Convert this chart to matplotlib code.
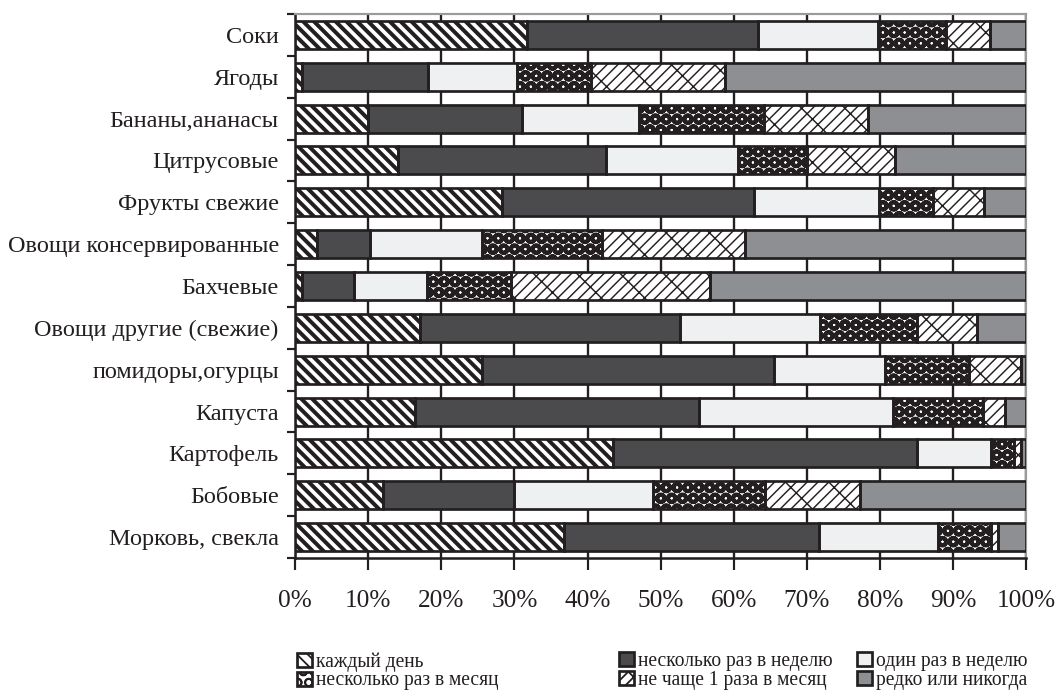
import numpy as np
import matplotlib
matplotlib.use("Agg")
import matplotlib.pyplot as plt
from matplotlib.legend_handler import HandlerTuple

plt.rcParams['font.family'] = ['Liberation Serif', 'DejaVu Serif']

categories = ["Соки", "Ягоды", "Бананы,ананасы", "Цитрусовые", "Фрукты свежие",
              "Овощи консервированные", "Бахчевые", "Овощи другие (свежие)",
              "помидоры,огурцы", "Капуста", "Картофель", "Бобовые", "Морковь, свекла"]

series_names = ["каждый день", "несколько раз в неделю", "один раз в неделю",
                "несколько раз в месяц", "не чаще 1 раза в месяц", "редко или никогда"]

daily       = [31.7, 0.9, 10.0, 14.1, 28.3, 3.0, 0.9, 17.1, 25.6, 16.4, 43.5, 12.0, 36.8]
weekly_many = [31.6, 17.3, 21.1, 28.4, 34.4, 7.2, 7.2, 35.5, 39.9, 38.9, 41.6, 18.0, 34.8]
weekly_once = [16.4, 12.1, 15.9, 18.1, 17.2, 15.4, 10.0, 19.2, 15.2, 26.4, 10.0, 19.0, 16.3]
monthly_few = [9.3, 10.2, 17.1, 9.4, 7.3, 16.4, 11.4, 13.3, 11.4, 12.3, 3.2, 15.2, 7.3]
monthly_le1 = [6.0, 18.3, 14.2, 12.0, 7.0, 19.5, 27.2, 8.1, 7.1, 3.1, 0.9, 13.0, 0.9]
rarely      = [5.0, 41.2, 21.7, 18.0, 5.8, 38.5, 43.3, 6.8, 0.8, 2.9, 0.8, 22.8, 3.9]

x_ticks = [0, 10, 20, 30, 40, 50, 60, 70, 80, 90, 100]
x_tick_labels = [f"{t}%" for t in x_ticks]

series = [daily, weekly_many, weekly_once, monthly_few, monthly_le1, rarely]

EDGE = '#231f20'
styles = [
    dict(face='white', hcol=EDGE, hatch='\\' * 4, hlw=2.2),
    dict(face='#4b4b4d', hcol=EDGE, hatch=None, hlw=1.0),
    dict(face='#eff0f2', hcol=EDGE, hatch=None, hlw=1.0),
    dict(face='white', hcol=EDGE, hatch='OO', hlw=2.2),
    dict(face='white', hcol=EDGE, hatch='////' + '\\', hlw=0.8),
    dict(face='#8e8f93', hcol=EDGE, hatch=None, hlw=1.0),
]

DPI = 130
fig = plt.figure(figsize=(1057 / DPI, 699 / DPI), dpi=DPI)
ax = fig.add_axes([0.2791, 0.2017, 0.9711 - 0.2791, 0.98 - 0.2017])

y = np.arange(len(categories))
left = np.zeros(len(categories))
handles = []
for vals, name, st in zip(series, series_names, styles):
    vals = np.array(vals)
    plt.rcParams['hatch.linewidth'] = st['hlw']
    b1 = ax.barh(y, vals, left=left, height=0.67, color=st['face'],
                 edgecolor=st['hcol'], hatch=st['hatch'], linewidth=0, zorder=3)
    for p in b1:
        if hasattr(p, 'set_hatch_linewidth'):
            p.set_hatch_linewidth(st['hlw'])
    b2 = ax.barh(y, vals, left=left, height=0.67, fill=False,
                 edgecolor=EDGE, linewidth=1.5, zorder=4)
    handles.append((b1, b2))
    left = left + vals

ax.set_xlim(0, 100)
ax.set_ylim(len(categories) - 0.5, -0.5)

ax.set_xticks(x_ticks)
ax.set_xticklabels(x_tick_labels)
ax.tick_params(axis='x', direction='out', length=6.5, width=1.2, color=EDGE,
               pad=11, labelsize=14, labelcolor='#231f20')

ax.set_yticks(np.arange(-0.5, len(categories), 1))
ax.set_yticklabels([])
ax.set_yticks(y, minor=True)
ax.set_yticklabels(categories, minor=True)
ax.tick_params(axis='y', which='major', direction='out', length=4.5, width=1.2, color=EDGE)
ax.tick_params(axis='y', which='minor', length=0, pad=9, labelsize=13.45, labelcolor='#231f20')

ax.grid(axis='x', color=EDGE, linewidth=1.3, zorder=0)
ax.grid(axis='y', visible=False)
ax.set_axisbelow(True)

for s in ['left', 'bottom']:
    ax.spines[s].set_color(EDGE)
    ax.spines[s].set_linewidth(1.4)
for s in ['top', 'right']:
    ax.spines[s].set_color('#9a9a9a')
    ax.spines[s].set_linewidth(1.2)

col_x = [297 / 1057, 619 / 1057, 857 / 1057]
for c in range(3):
    hs = [handles[c], handles[c + 3]]
    ls = [series_names[c], series_names[c + 3]]
    leg = fig.legend(hs, ls, loc='upper left', bbox_to_anchor=(col_x[c], 1 - 652 / 699),
                     frameon=False, fontsize=10.8, handlelength=0.75, handleheight=0.75,
                     handletextpad=0.25, labelspacing=0.0, borderpad=0, borderaxespad=0,
                     handler_map={tuple: HandlerTuple(ndivide=1, pad=0)})
    for t in leg.get_texts():
        t.set_color('#231f20')

fig.savefig("out.png", dpi=DPI, facecolor='white')
